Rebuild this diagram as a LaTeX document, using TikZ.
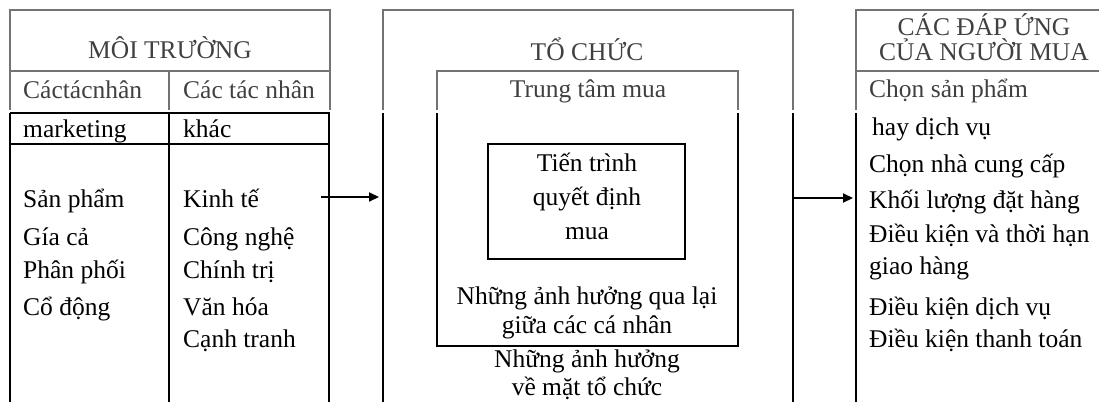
\documentclass[tikz,border=0pt]{standalone}
\usepackage{fontspec}
\setmainfont{Liberation Serif}
\usetikzlibrary{arrows.meta}
\begin{document}
\begin{tikzpicture}[x=1pt,y=-1pt,
  every node/.style={inner sep=0pt, font=\fontsize{25.5}{30}\selectfont},
  greyline/.style={draw=black!55, line width=2pt},
  blackline/.style={draw=black, line width=2.6pt},
  txt/.style={anchor=base west},
  ctxt/.style={anchor=base},
  hdr/.style={text=black!75},
  flow/.style={line width=2pt,-{Triangle[length=10pt,width=9pt]}}]
\useasboundingbox (0,0) rectangle (1099,402);

% ---------- environment table ----------
\draw[greyline] (10,110) -- (10,10) -- (330,10) -- (330,110);
\draw[greyline] (10,71) -- (330,71);
\draw[greyline] (169,71) -- (169,110);
\draw[blackline] (10,113) -- (330,113);
\draw[blackline] (10,144) -- (330,144);
\draw[blackline] (10,113) -- (10,402);
\draw[blackline] (169,113) -- (169,402);
\draw[blackline] (329,113) -- (329,402);

\node[ctxt,hdr] (envtitle) at (170,58) {MÔI TRƯỜNG};
\node[txt,hdr] (mkhead) at (23,98) {Cáctácnhân};
\node[txt,hdr] (othhead) at (183,98) {Các tác nhân};
\node[txt] (mk) at (23,137) {marketing};
\node[txt] (oth) at (183,137) {khác};
\node[txt] (m1) at (23,207) {Sản phẩm};
\node[txt] (m2) at (23,245) {Gía cả};
\node[txt] (m3) at (23,278) {Phân phối};
\node[txt] (m4) at (23,315) {Cổ động};
\node[txt] (o1) at (183,207) {Kinh tế};
\node[txt] (o2) at (183,245) {Công nghệ};
\node[txt] (o3) at (183,278) {Chính trị};
\node[txt] (o4) at (183,315) {Văn hóa};
\node[txt] (o5) at (183,347) {Cạnh tranh};

% ---------- organisation ----------
\draw[greyline] (383,110) -- (383,10) -- (793,10) -- (793,110);
\draw[blackline] (383,113) -- (383,402);
\draw[blackline] (793,113) -- (793,402);
\draw[greyline] (437,110) -- (437,71) -- (738,71) -- (738,110);
\draw[blackline] (437,113) -- (437,346) -- (738,346) -- (738,113);
\draw[blackline] (488,144) rectangle (685,259);

\node[ctxt,hdr] (orgtitle) at (587,60) {TỔ CHỨC};
\node[ctxt,hdr] (center) at (588,97) {Trung tâm mua};
\node[ctxt] (p1) at (587,171) {Tiến trình};
\node[ctxt] (p2) at (587,205) {quyết định};
\node[ctxt] (p3) at (587,239) {mua};
\node[ctxt] (i1) at (587,304) {Những ảnh hưởng qua lại};
\node[ctxt] (i2) at (587,333) {giữa các cá nhân};
\node[ctxt] (g1) at (587,367) {Những ảnh hưởng};
\node[ctxt] (g2) at (587,395) {về mặt tổ chức};

% ---------- buyer responses ----------
\draw[greyline] (856,110) -- (856,10) -- (1099,10);
\draw[greyline] (856,71) -- (1099,71);
\draw[blackline] (856,113) -- (856,402);

\node[ctxt,hdr] (resp1) at (984,35) {CÁC ĐÁP ỨNG};
\node[ctxt,hdr] (resp2) at (984,60) {CỦA NGƯỜI MUA};
\node[txt,hdr] (r0) at (869,97) {Chọn sản phẩm};
\node[txt] (r1) at (872,135) {hay dịch vụ};
\node[txt] (r2) at (869,172) {Chọn nhà cung cấp};
\node[txt] (r3) at (869,208) {Khối lượng đặt hàng};
\node[txt] (r4) at (869,242) {Điều kiện và thời hạn};
\node[txt] (r5) at (869,274) {giao hàng};
\node[txt] (r6) at (869,315) {Điều kiện dịch vụ};
\node[txt] (r7) at (869,347) {Điều kiện thanh toán};

% ---------- flow arrows ----------
\coordinate (envout) at (321,197);
\coordinate (orgin) at (379,197);
\coordinate (orgout) at (793,198);
\coordinate (respin) at (853,198);
\draw[flow] (envout) -- (orgin);
\draw[flow] (orgout) -- (respin);
\end{tikzpicture}
\end{document}
